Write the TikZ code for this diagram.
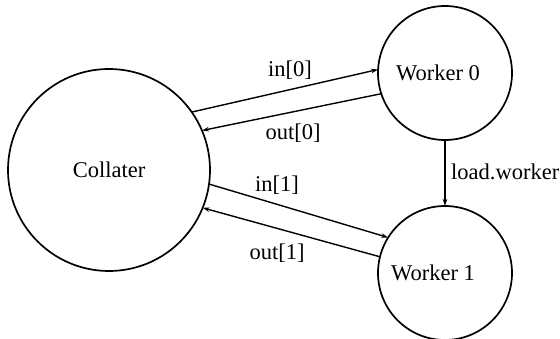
\documentclass[tikz,border=0pt]{standalone}
\usepackage{fontspec}
\setmainfont{Liberation Serif}
\usetikzlibrary{arrows.meta}
\begin{document}
\begin{tikzpicture}[x=1pt,y=1pt,
  proc/.style={circle,draw,line width=1.7pt,inner sep=0pt,outer sep=0pt},
  chan/.style={line width=1.4pt,-{Stealth[length=7pt,width=4.5pt]}},
  lbl/.style={inner sep=0pt},
  every node/.append style={font=\fontsize{22.5}{26}\selectfont}]
\useasboundingbox (0,0) rectangle (560,338);
% processes
\node[proc,minimum size=202pt] (coll) at (109,168) {Collater};
\node[proc,minimum size=134pt,label={[xshift=-7pt]center:Worker 0}] (w0) at (445,265) {};
\node[proc,minimum size=134pt,label={[xshift=-12pt]center:Worker 1}] (w1) at (445,65) {};
% channels between collater and workers
\draw[chan] (coll.35) -- (w0.177);
\draw[chan] (w0.198) -- (coll.23.5);
\draw[chan] (coll.-8.5) -- (w1.148);
\draw[chan] (w1.166) -- (coll.-22.5);
\draw[chan] (w0.south) -- (w1.north);
% channel names
\node[lbl] (lin0) at (290,268) {in[0]};
\node[lbl] (lout0) at (293,205) {out[0]};
\node[lbl] (lin1) at (277,153) {in[1]};
\node[lbl] (lout1) at (277,85) {out[1]};
\node[lbl,anchor=west] (lload) at (451,166) {load.worker};
\end{tikzpicture}
\end{document}
